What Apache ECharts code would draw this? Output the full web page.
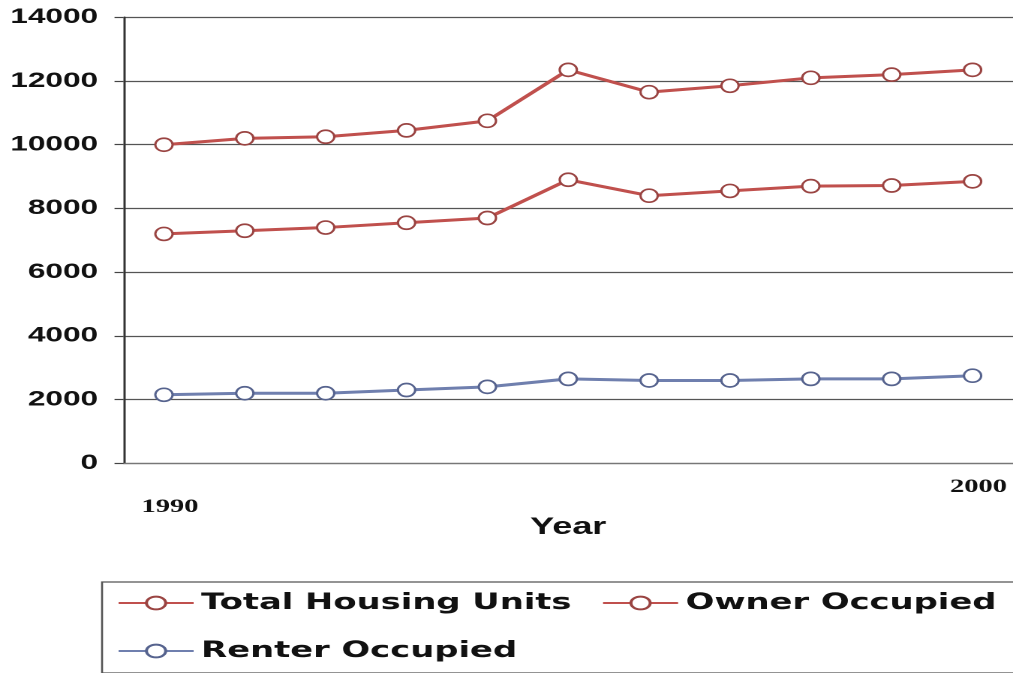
<!DOCTYPE html>
<html>
<head>
<meta charset="utf-8">
<title>Housing Units 1990-2000</title>
<script src="https://cdn.jsdelivr.net/npm/echarts@6/dist/echarts.min.js"></script>
<style>
  html, body { margin: 0; padding: 0; background: #fff; width: 1013px; height: 673px; overflow: hidden; }
  /* the chart is drawn narrow and widened horizontally, giving the wide lettering and oval markers */
  #chart { width: 675px; height: 673px; transform: scaleX(1.50074); transform-origin: 0 0; }
</style>
</head>
<body>
<div id="chart"></div>
<script>
// years on the category axis
const years = ['1990', '1991', '1992', '1993', '1994', '1995', '1996', '1997', '1998', '1999', '2000'];
// only the end years carry a label
const shownYears = ['1990', '2000'];

// housing units per year
const totalUnits  = [10000, 10200, 10250, 10450, 10750, 12350, 11650, 11850, 12100, 12200, 12350];
const ownerUnits  = [7200, 7300, 7400, 7550, 7700, 8900, 8400, 8550, 8700, 8720, 8850];
const renterUnits = [2150, 2200, 2200, 2300, 2400, 2650, 2600, 2600, 2650, 2650, 2750];

const seriesNames = ['Total Housing Units', 'Owner Occupied', 'Renter Occupied'];

const chart = echarts.init(document.getElementById('chart'), null, { renderer: 'canvas', devicePixelRatio: 2 });

function lineSeries(name, values, color, edge) {
  return {
    name: name,
    type: 'line',
    data: values,
    symbol: 'circle',
    symbolSize: [11.5, 13],
    showAllSymbol: true,
    lineStyle: { color: color, width: 3 },
    itemStyle: { color: '#ffffff', borderColor: edge, borderWidth: 1.6 },
    emphasis: { disabled: true },
    z: 3
  };
}

chart.setOption({
  animation: false,
  backgroundColor: '#ffffff',
  grid: { left: 82.3, top: 17.3, width: 595.5, height: 446 },
  xAxis: {
    type: 'category',
    data: years,
    boundaryGap: true,
    name: 'Year',
    nameLocation: 'middle',
    nameGap: 52,
    nameMoveOverlap: false,
    nameTextStyle: { fontFamily: 'Liberation Sans', fontWeight: 'bold', fontSize: 24, color: '#111' },
    axisLine: { show: true, lineStyle: { color: '#777', width: 1.2 } },
    axisTick: { show: false },
    axisLabel: {
      interval: 0,
      margin: 14,
      padding: [0, 0, 0, 8],
      lineHeight: 20,
      fontFamily: 'Liberation Serif',
      fontWeight: 'bold',
      fontSize: 19,
      color: '#111',
      formatter: function (v, i) {
        if (shownYears.indexOf(v) < 0) return '';
        return i === 0 ? '\n' + v : v;
      }
    },
    splitLine: { show: false }
  },
  yAxis: {
    type: 'value',
    min: 0,
    max: 14000,
    interval: 2000,
    axisLine: { show: true, lineStyle: { color: '#333', width: 1.5 } },
    axisTick: { show: true, length: 6, lineStyle: { color: '#444', width: 1.2 } },
    axisLabel: {
      margin: 17,
      fontFamily: 'Liberation Sans',
      fontWeight: 'bold',
      fontSize: 21,
      color: '#111',
      formatter: function (v) { return String(v); }
    },
    splitLine: { show: true, lineStyle: { color: '#555', width: 1.3 } }
  },
  legend: {
    data: seriesNames,
    orient: 'horizontal',
    left: 68,
    top: 582,
    width: 600,
    padding: [7, 40, 8, 10],
    itemWidth: 50,
    itemHeight: 16,
    itemGap: 20,
    borderColor: '#555',
    borderWidth: 1.3,
    textStyle: { fontFamily: 'DejaVu Sans', fontWeight: 'bold', fontSize: 22.5, lineHeight: 28, color: '#111' }
  },
  series: [
    lineSeries(seriesNames[0], totalUnits, '#c0504d', '#9a4442'),
    lineSeries(seriesNames[1], ownerUnits, '#c0504d', '#9a4442'),
    lineSeries(seriesNames[2], renterUnits, '#6f7fae', '#56638e')
  ]
});
</script>
</body>
</html>
